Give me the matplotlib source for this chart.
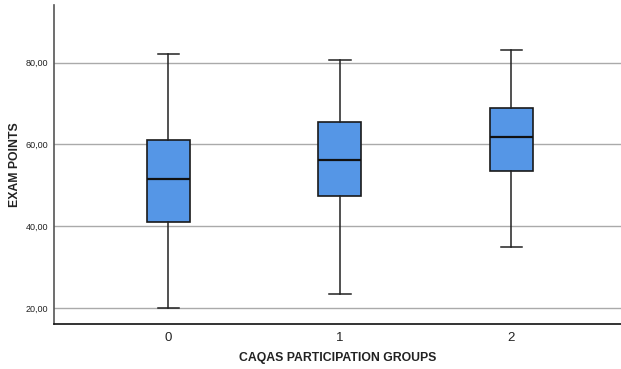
import matplotlib
matplotlib.use("Agg")
import matplotlib.pyplot as plt
from matplotlib.ticker import FuncFormatter

plt.rcParams["font.family"] = ["Liberation Sans", "DejaVu Sans"]

groups = ["0", "1", "2"]
whisker_low = [20.0, 23.5, 35.0]
q1 = [41.0, 47.5, 53.6]
median = [51.5, 56.1, 61.8]
q3 = [61.0, 65.5, 68.9]
whisker_high = [82.0, 80.5, 83.0]
yticks = [20, 40, 60, 80]

fig = plt.figure(figsize=(6.21, 3.69), dpi=100)
ax = fig.add_axes([0.087, 0.122, 0.913, 0.864])

stats = []
for i, g in enumerate(groups):
    stats.append(dict(label=g, whislo=whisker_low[i], q1=q1[i], med=median[i],
                      q3=q3[i], whishi=whisker_high[i], fliers=[]))

ax.bxp(stats, positions=range(len(groups)), widths=0.25, patch_artist=True,
       showfliers=False,
       boxprops=dict(facecolor="#5596E6", edgecolor="#1a1a1a", linewidth=1.2),
       medianprops=dict(color="#111111", linewidth=1.6),
       whiskerprops=dict(color="#222222", linewidth=1.1),
       capprops=dict(color="#222222", linewidth=1.1),
       zorder=3)

ax.set_xlim(-0.667, 2.64)
ax.set_ylim(16.2, 94.0)
ax.set_yticks(yticks)
ax.yaxis.set_major_formatter(FuncFormatter(lambda v, p: f"{v:.2f}".replace(".", ",")))
ax.grid(axis="y", color="#aaaaaa", linewidth=1.0, zorder=0)
ax.set_axisbelow(True)
ax.tick_params(axis="y", length=0, labelsize=6.5, pad=4, labelcolor="#222222")
ax.tick_params(axis="x", length=0, labelsize=9.5, pad=6, labelcolor="#222222")

for s in ["top", "right"]:
    ax.spines[s].set_visible(False)
ax.spines["left"].set_color("#555555")
ax.spines["left"].set_linewidth(1.2)
ax.spines["bottom"].set_color("#111111")
ax.spines["bottom"].set_linewidth(1.2)

ax.set_xlabel("CAQAS PARTICIPATION GROUPS", fontsize=8.8, fontweight="bold",
              color="#222222", va="center")
ax.xaxis.set_label_coords(0.5, -0.107)
ax.set_ylabel("EXAM POINTS", fontsize=8.8, fontweight="bold", color="#222222",
              va="center", ha="center")
ax.yaxis.set_label_coords(-0.068, 0.5)

fig.savefig("out.png", dpi=100)
